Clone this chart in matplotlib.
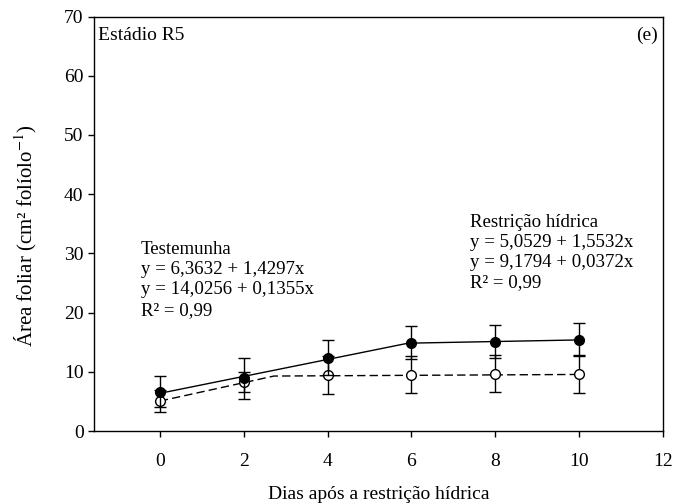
import matplotlib
matplotlib.use('Agg')
from matplotlib import pyplot as plt

plt.rcParams['font.family'] = ['Liberation Serif', 'DejaVu Serif']
plt.rcParams['mathtext.fontset'] = 'stix'

# days after water restriction
days = [0, 2, 4, 6, 8, 10]

# Testemunha (filled circles)
ctrl_mean = [6.65, 8.9, 12.4, 14.9, 15.1, 15.4]
ctrl_err = [2.65, 3.5, 3.0, 2.75, 2.8, 2.8]
# fitted segmented line (vertices)
ctrl_fit_x = [0, 5.92, 10]
ctrl_fit_y = [6.36, 14.83, 15.38]

# Restricao hidrica (open circles)
rest_mean = [5.1, 8.3, 9.5, 9.5, 9.7, 9.6]
rest_err = [1.85, 1.7, 3.2, 3.15, 3.1, 3.2]
rest_fit_x = [0, 2.72, 10]
rest_fit_y = [5.05, 9.28, 9.55]

fig = plt.figure(figsize=(6.74, 5.04), dpi=100)
ax = fig.add_axes([94 / 674, 1 - 431 / 504, (663 - 94) / 674, (431 - 16.5) / 504])

ax.plot(ctrl_fit_x, ctrl_fit_y, color='k', lw=1.0, zorder=2)
ax.plot(rest_fit_x, rest_fit_y, color='k', lw=1.0, ls=(0, (6, 3)), zorder=2)

ax.errorbar(days, rest_mean, yerr=rest_err, fmt='o', color='k', mfc='white',
            mec='k', ms=7, mew=1.0, ecolor='k', elinewidth=1.0, capsize=4, capthick=1.0, zorder=3)
ax.errorbar(days, ctrl_mean, yerr=ctrl_err, fmt='o', color='k', mfc='k',
            mec='k', ms=7, mew=1.0, ecolor='k', elinewidth=1.0, capsize=4, capthick=1.0, zorder=4)

ax.set_xlim(-1.57, 12)
ax.set_ylim(0, 70)
ax.set_xticks(range(0, 13, 2))
ax.set_yticks(range(0, 71, 10))
ax.tick_params(direction='out', length=4.5, width=1, labelsize=14, top=False, right=False)
ax.tick_params(axis='x', pad=11)
ax.tick_params(axis='y', pad=3)
for s in ax.spines.values():
    s.set_linewidth(1.0)

ax.set_xlabel('Dias após a restrição hídrica', fontsize=14, labelpad=12)
ax.set_ylabel('Área foliar (cm² folíolo$^{-1}$)', fontsize=15)
ax.yaxis.set_label_coords(-0.096, 0.47)

ax.text(0.007, 0.975, 'Estádio R5', transform=ax.transAxes, fontsize=14, va='top', ha='left')
ax.text(0.991, 0.975, '(e)', transform=ax.transAxes, fontsize=14, va='top', ha='right')

ax.text(-0.45, 32.1, 'Testemunha\ny = 6,3632 + 1,4297x\ny = 14,0256 + 0,1355x\nR² = 0,99',
        fontsize=13.6, va='top', ha='left', linespacing=1.25)
ax.text(7.4, 36.7, 'Restrição hídrica\ny = 5,0529 + 1,5532x\ny = 9,1794 + 0,0372x\nR² = 0,99',
        fontsize=13.6, va='top', ha='left', linespacing=1.25)

fig.savefig('out.png', dpi=100)
